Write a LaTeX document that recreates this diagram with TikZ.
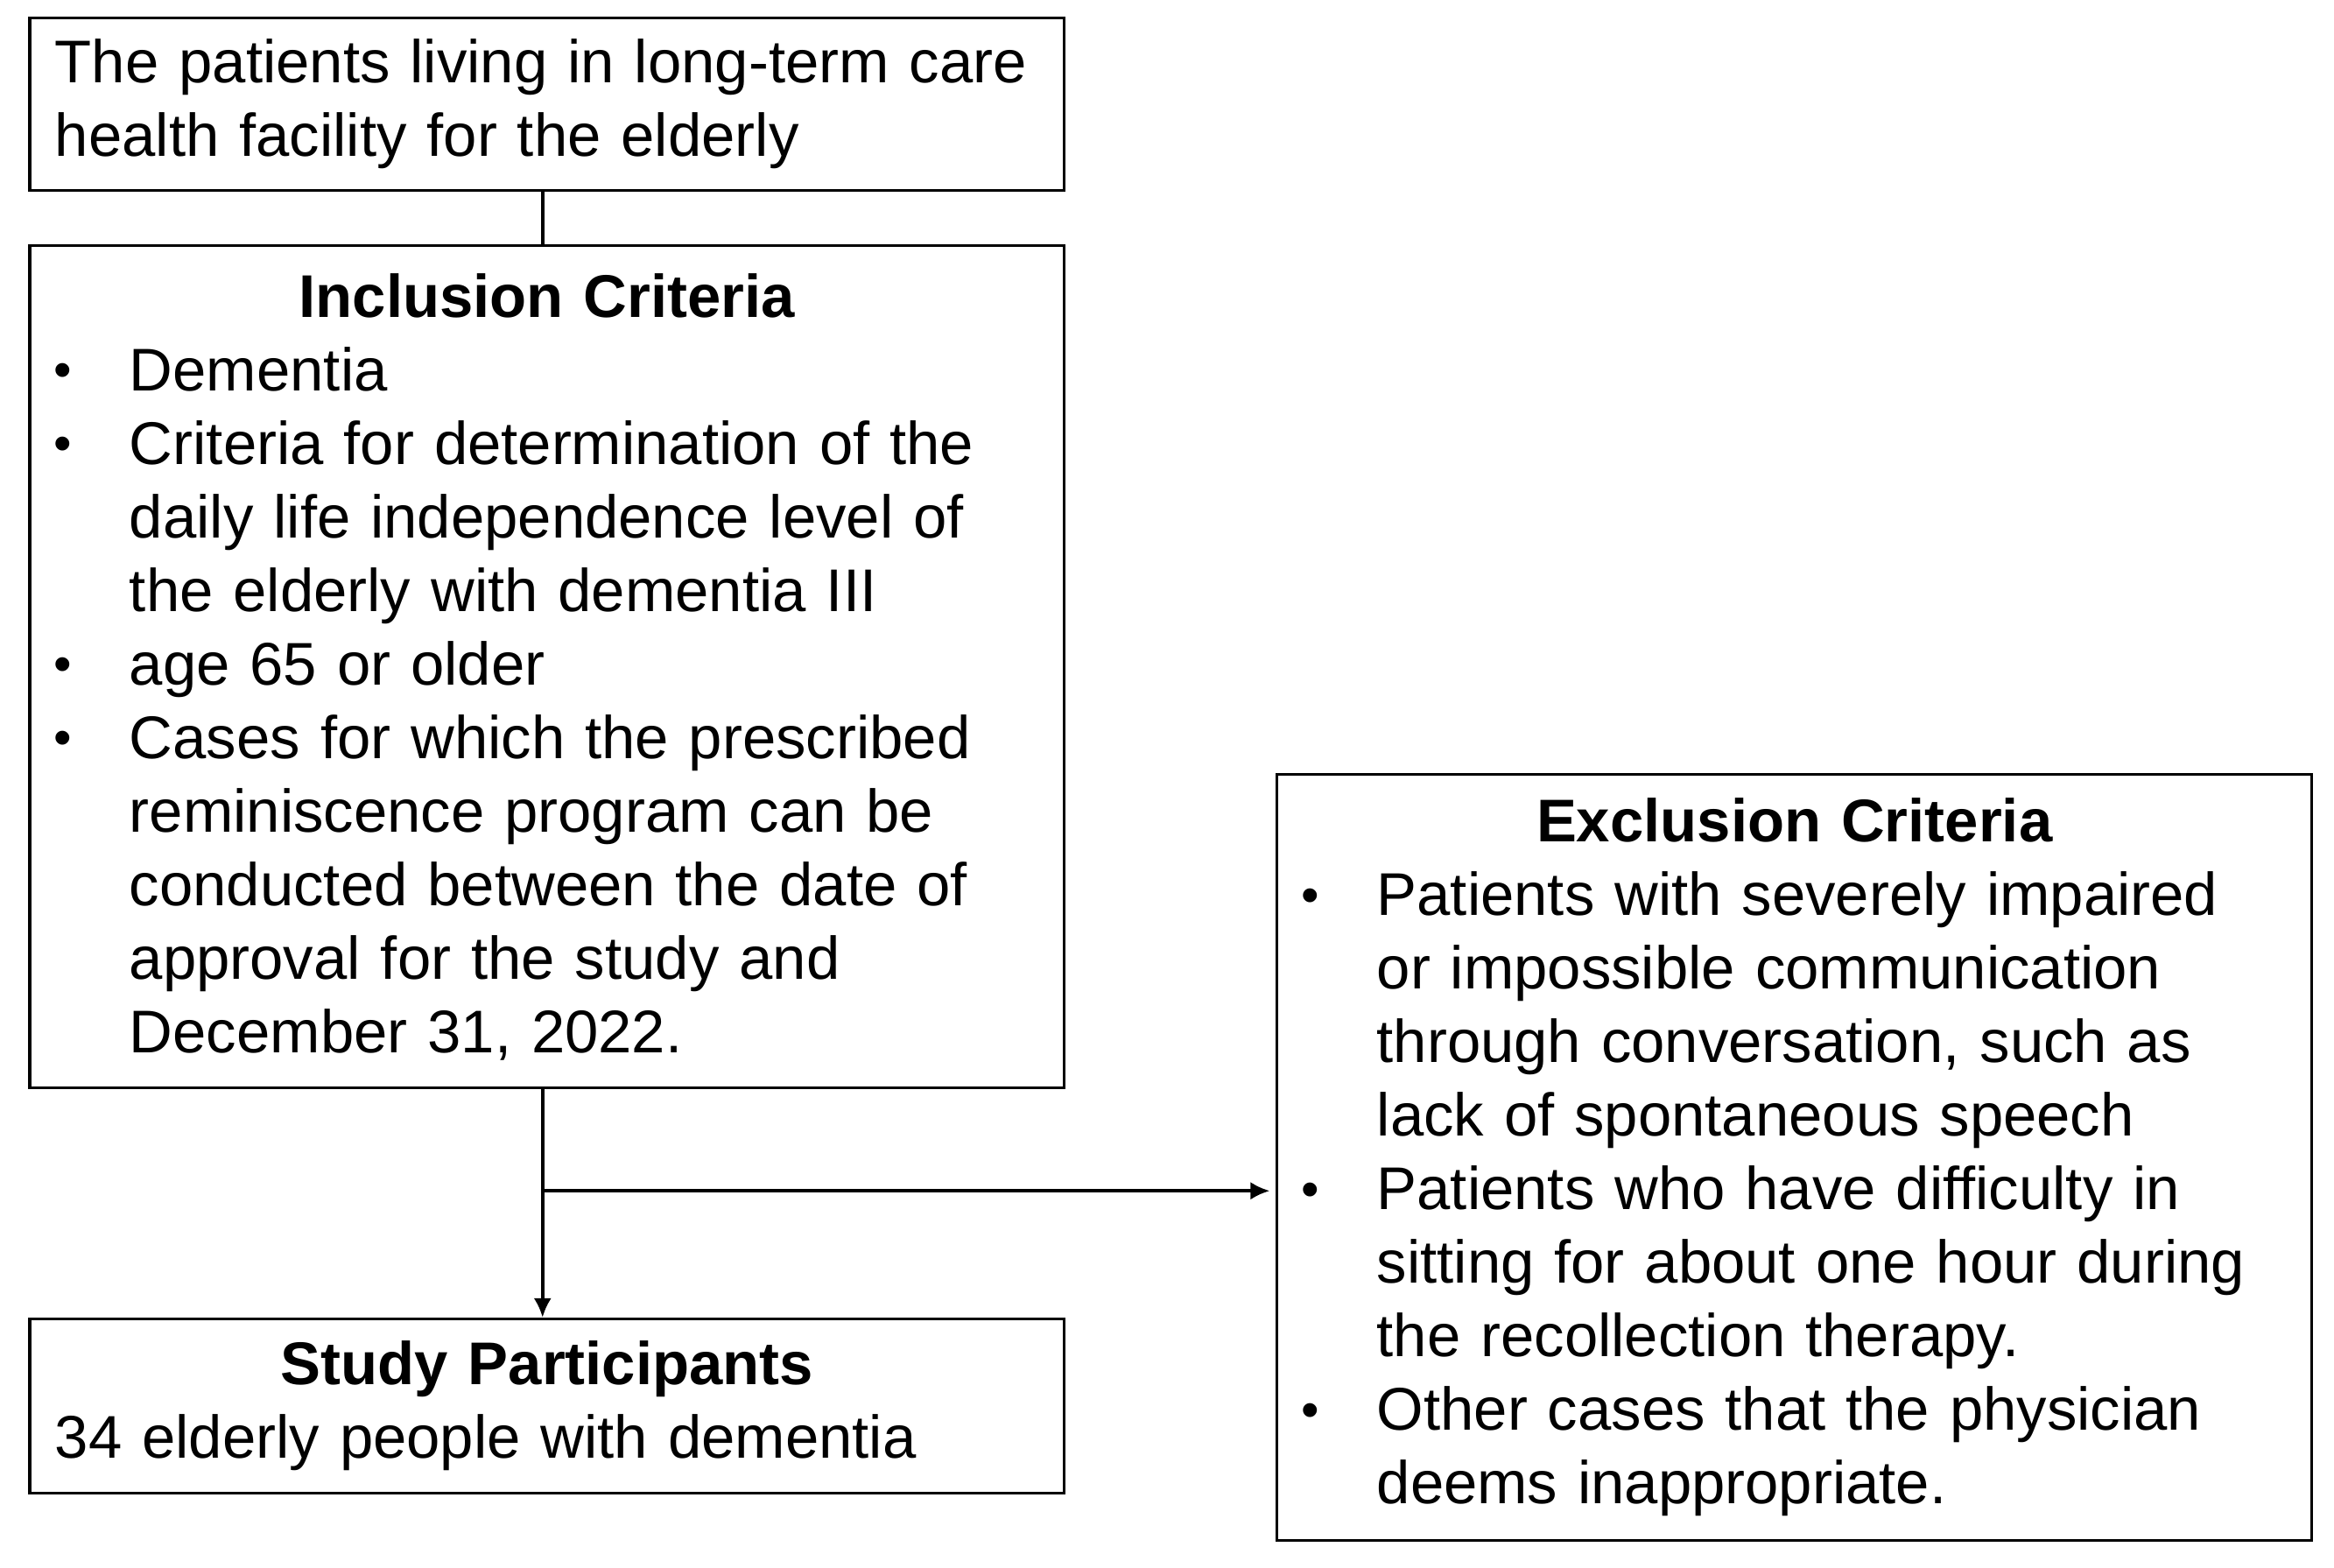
\documentclass[tikz,border=0pt]{standalone}
\usepackage{fontspec}
\setmainfont{Liberation Sans}
\usepackage{tikz}
\tikzset{
	>=latex
}
\usetikzlibrary{arrows.meta}
\usetikzlibrary{calc}

\tikzset{
	critbox/.style={draw, line width=0.9pt, align=left, text width=330.5pt,
		inner xsep=8.5pt, inner ysep=0pt, minimum width=347.5pt,
		font=\fontsize{20.25pt}{24.7pt}\selectfont},
	flowline/.style={line width=1.2pt}
}
\newcommand{\boxhead}[1]{{\centering\bfseries #1\par}}
\newcommand{\critem}[1]{\par\hangindent=25pt\hangafter=1\noindent\makebox[25pt][l]{\hspace{-0.5pt}\raisebox{0.05em}{\scalebox{0.85}{\textbullet}}}#1\par}

\begin{document}
\begin{tikzpicture}[x=0.5pt, y=-0.5pt]
	%\draw[help lines] (0,0) grid (1568,1053);
	\useasboundingbox (0,0) rectangle (1568,1053);

	\node[critbox, minimum height=58pt] (pop) at (367.5,70)
		{The patients living in long-term care\newline health facility for the elderly};

	\node[critbox, minimum height=283pt] (incl) at (367.5,448)
		{\boxhead{Inclusion Criteria}
		\critem{Dementia}
		\critem{Criteria for determination of the\newline daily life independence level of\newline the elderly with dementia III}
		\critem{age 65 or older}
		\critem{Cases for which the prescribed\newline reminiscence program can be\newline conducted between the date of\newline approval for the study and\newline December 31, 2022.}};

	\node[critbox, minimum height=58.5pt] (study) at (367.5,944.5)
		{\boxhead{Study Participants}
		34 elderly people with dementia};

	\node[critbox, minimum height=257.5pt] (excl) at (1205.5,777.5)
		{\boxhead{Exclusion Criteria}
		\critem{Patients with severely impaired\newline or impossible communication\newline through conversation, such as\newline lack of spontaneous speech}
		\critem{Patients who have difficulty in\newline sitting for about one hour during\newline the recollection therapy.}
		\critem{Other cases that the physician\newline deems inappropriate.}};

	\coordinate (branch) at (364.5,800);

	\draw[flowline] (branch |- pop.south) -- (branch |- incl.north);
	\draw[flowline, -{Latex[length=6.5pt,width=6pt]}] (branch |- incl.south) -- (branch |- study.north);
	\draw[flowline, -{Latex[length=6.5pt,width=6pt]}] (branch) -- ([xshift=-2pt]branch -| excl.west);

\end{tikzpicture}
\end{document}
